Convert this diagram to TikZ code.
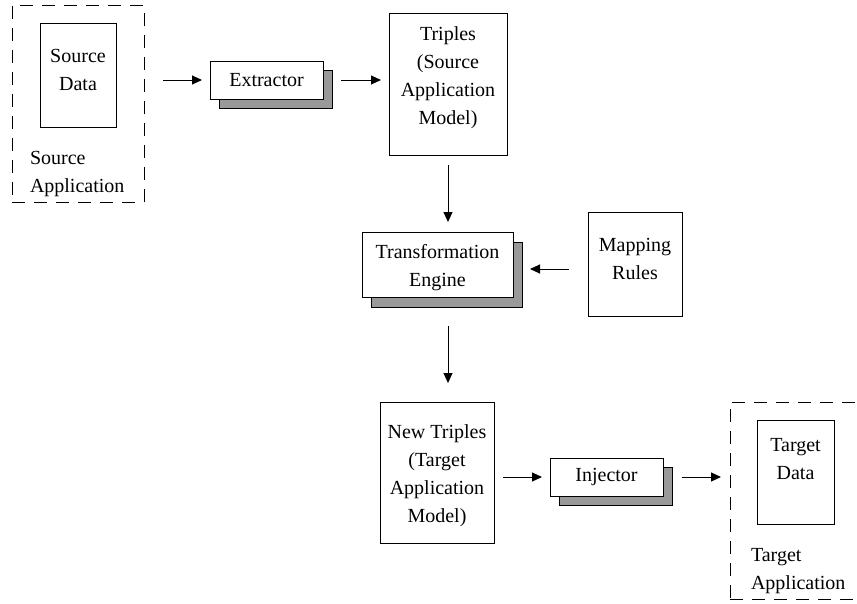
\documentclass[tikz,border=0pt]{standalone}
\usepackage{fontspec}
\setmainfont{Liberation Serif}
\usetikzlibrary{arrows.meta,positioning,calc}

\definecolor{shadowgray}{RGB}{153,153,153}

\tikzset{
  every node/.style={inner sep=0pt, outer sep=0pt},
  txt/.style={align=center, font=\fontsize{20}{28}\selectfont},
  lbl/.style={align=left, anchor=west, font=\fontsize{20}{28}\selectfont},
  box/.style={draw, line width=1pt, fill=white},
  shade/.style={draw, line width=1pt, fill=shadowgray},
  group/.style={draw, line width=1pt, dash pattern=on 13pt off 9pt},
  flow/.style={line width=1pt, -{Triangle[length=10pt,width=9pt]}},
}

\begin{document}
\begin{tikzpicture}[x=1pt, y=-1pt]
  \useasboundingbox (0,0) rectangle (857,603);
  \clip (0,0) rectangle (857,603);

  % source side
  \node[group, minimum width=132pt, minimum height=197pt] (srcapp) at (78,103.5) {};
  \node[box, minimum width=76pt, minimum height=104pt] (srcdata) at (78,75) {};
  \node[txt] (srcdatatxt) at (78,70) {Source\\Data};
  \node[lbl] (srcapptxt) at (30,174) {Source\\Application};

  % extractor (stacked box)
  \node[shade, minimum width=113pt, minimum height=38pt] (extback) at (275.5,89) {};
  \node[box, txt, minimum width=113pt, minimum height=38pt] (ext) at (266.5,80) {Extractor};

  % source triples
  \node[box, minimum width=118pt, minimum height=142pt] (triples) at (448,84) {};
  \node[txt] (triplestxt) at (448,78) {Triples\\(Source\\Application\\Model)};

  % transformation engine (stacked box)
  \node[shade, minimum width=151pt, minimum height=65pt] (engback) at (446.5,274.5) {};
  \node[box, minimum width=151pt, minimum height=65pt] (eng) at (437.5,264.5) {};
  \node[txt] (engtxt) at (437.5,268) {Transformation\\Engine};

  % mapping rules
  \node[box, minimum width=94pt, minimum height=104pt] (rules) at (635,264) {};
  \node[txt] (rulestxt) at (635,259) {Mapping\\Rules};

  % target triples
  \node[box, minimum width=114pt, minimum height=141pt] (newtriples) at (437,472.5) {};
  \node[txt] (newtriplestxt) at (437,476) {New Triples\\(Target\\Application\\Model)};

  % injector (stacked box)
  \node[shade, minimum width=113pt, minimum height=38pt] (injback) at (616,486.5) {};
  \node[box, txt, minimum width=113pt, minimum height=38pt] (inj) at (606.5,477) {Injector};

  % target side
  \node[group, minimum width=140pt, minimum height=197pt] (tgtapp) at (800,500.5) {};
  \node[box, minimum width=77pt, minimum height=104pt] (tgtdata) at (795.5,472) {};
  \node[txt] (tgtdatatxt) at (795.5,459.5) {Target\\Data};
  \node[lbl] (tgtapptxt) at (751,571.5) {Target\\Application};

  % connectors
  \draw[flow, shorten <=19pt, shorten >=8pt] (srcapp.east |- ext.west) -- (ext.west);
  \draw[flow, shorten <=9pt, shorten >=8pt] (extback.east |- ext.east) -- (triples.west |- ext.east);
  \draw[flow, shorten <=10pt, shorten >=10pt] (triples.south) -- (triples.south |- eng.north);
  \draw[flow, shorten <=19pt, shorten >=8pt] (rules.west |- 0,269) -- (engback.east |- 0,269);
  \draw[flow, shorten <=19pt, shorten >=19pt] (engback.south -| triples.south) -- (newtriples.north -| triples.south);
  \draw[flow, shorten <=9pt, shorten >=8pt] (newtriples.east |- inj.west) -- (inj.west);
  \draw[flow, shorten <=9pt, shorten >=9pt] (injback.east |- inj.east) -- (tgtapp.west |- inj.east);
\end{tikzpicture}
\end{document}
